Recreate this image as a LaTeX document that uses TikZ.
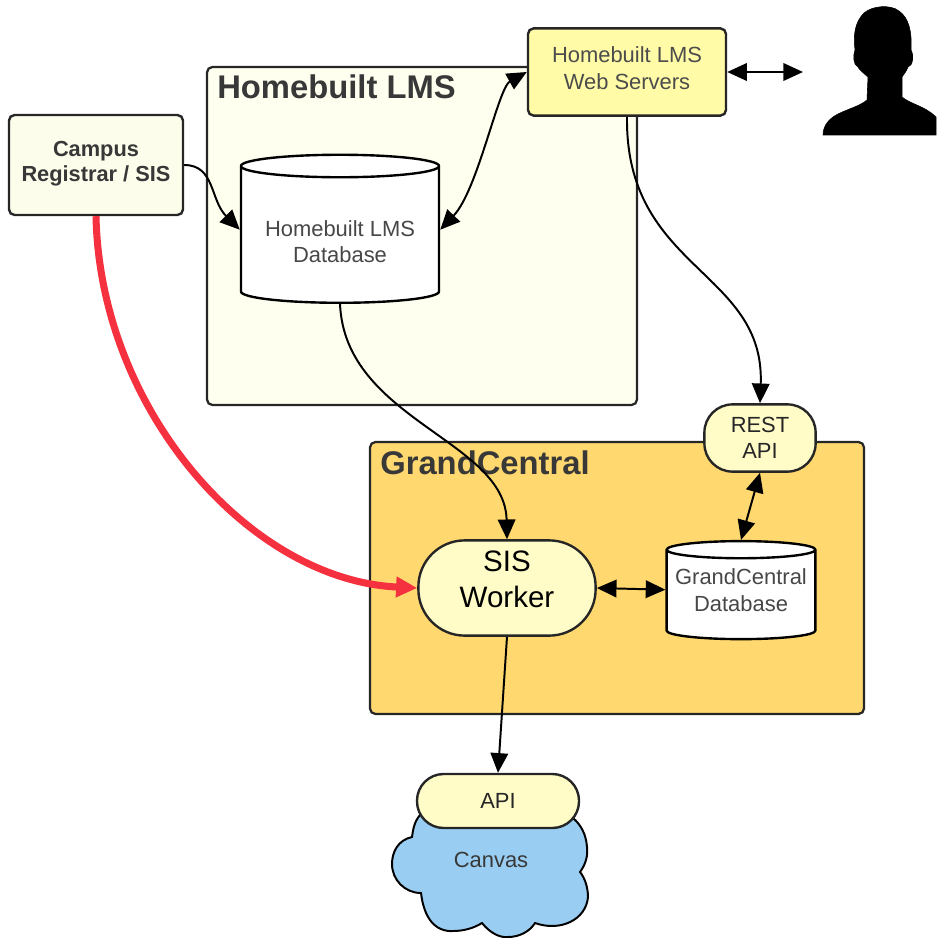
\documentclass[tikz,border=0pt]{standalone}
\usepackage{fontspec}
\setmainfont{Liberation Sans}
\usetikzlibrary{shapes.geometric,arrows.meta}

\definecolor{lmsfill}{HTML}{FFFFF0}
\definecolor{campusfill}{HTML}{FDFDEC}
\definecolor{webfill}{HTML}{FFFBA6}
\definecolor{apifill}{HTML}{FFFCC8}
\definecolor{gcfill}{HTML}{FFD96F}
\definecolor{cloudfill}{HTML}{99CEF2}
\definecolor{redline}{HTML}{F5303F}

\tikzset{
  panel/.style={draw=black!85,line width=1.6pt,rounded corners=4pt},
  paneltitle/.style={anchor=west,inner sep=0pt,text=black!78,font=\fontsize{23.3}{27}\selectfont\bfseries},
  box/.style={draw=black!85,line width=1.7pt,rounded corners=4pt,align=center,inner sep=0pt,
    font=\fontsize{15.6}{18.7}\selectfont},
  dbase/.style={draw=black,fill=white,line width=1.7pt,cylinder,shape border rotate=90,
    align=center,inner sep=0pt,text=black!72,font=\fontsize{15.6}{18.7}\selectfont},
  link/.style={draw=black,line width=1.4pt,-{Triangle[length=14pt,width=12.5pt]}},
  twolink/.style={draw=black,line width=1.4pt,{Triangle[length=14pt,width=12.5pt]}-{Triangle[length=14pt,width=12.5pt]}}
}

\begin{document}
\begin{tikzpicture}[x=0.025cm,y=-0.025cm]
  \useasboundingbox (0,0) rectangle (936,938);

  \node[panel,fill=lmsfill,minimum width=10.75cm,minimum height=8.45cm] (lmsbox) at (422,236) {};
  \node[paneltitle] (lmstitle) at (217,87) {Homebuilt LMS};
  \node[panel,fill=gcfill,minimum width=12.35cm,minimum height=6.8cm] (gcbox) at (617,578) {};
  \node[paneltitle] (gctitle) at (380,463) {GrandCentral};

  \filldraw[draw=black,fill=cloudfill,line width=1.4pt]
    (420,815) .. controls (414,822) and (413,830) .. (412,837)
    .. controls (398,840) and (392,852) .. (392,864)
    .. controls (392,880) and (405,893) .. (421,893)
    .. controls (424,918) and (435,932) .. (453,931)
    .. controls (464,931) and (474,928) .. (482,923)
    .. controls (490,933) and (500,938) .. (508,937)
    .. controls (520,937) and (530,931) .. (535,923)
    .. controls (560,932) and (586,920) .. (588,897)
    .. controls (588,888) and (585,878) .. (580,872)
    .. controls (586,864) and (588,855) .. (587,847)
    .. controls (586,834) and (581,825) .. (573,818) -- cycle;
  \node[inner sep=0pt,text=black!78,font=\fontsize{15.6}{18.7}\selectfont] (canvas) at (491,860) {Canvas};

  \filldraw[black]
    (823,135) .. controls (823,125) and (830,118) .. (838,114)
    .. controls (848,109) and (860,106) .. (867,100)
    -- (868,77) .. controls (862,72) and (858,68) .. (858,67)
    .. controls (853,65) and (853,55) .. (855,50)
    .. controls (853,35) and (855,22) .. (864,13)
    .. controls (872,6) and (890,4) .. (899,11)
    .. controls (909,18) and (912,32) .. (911,50)
    .. controls (914,55) and (913,66) .. (908,67)
    .. controls (906,72) and (904,74) .. (902,77)
    -- (902,97) .. controls (910,104) and (925,106) .. (936,117)
    -- (936,135) -- cycle;

  \node[box,fill=campusfill,text=black!78,font=\fontsize{15.5}{18.2}\selectfont\bfseries,
    minimum width=4.35cm,minimum height=2.5cm] (campus) at (96,165) {Campus\\Registrar / SIS\rule[-5pt]{0pt}{0pt}};
  \node[box,fill=webfill,text=black!70,minimum width=4.95cm,minimum height=2.18cm] (web) at (627,72) {Homebuilt LMS\\Web Servers\rule[-5.7pt]{0pt}{0pt}};
  \node[dbase,minimum width=4.95cm,minimum height=3.7cm,shape aspect=0.15] (lmsdb) at (340,235) {\rule{0pt}{21pt}Homebuilt LMS\\Database};
  \node[box,fill=apifill,text=black!85,rounded corners=20pt,minimum width=2.78cm,minimum height=1.68cm] (rest) at (760,438) {REST\\API};
  \node[box,fill=apifill,text=black,rounded corners=33pt,font=\fontsize{21}{25.6}\selectfont,
    minimum width=4.43cm,minimum height=2.38cm] (worker) at (507,588) {SIS\\Worker\rule[-12pt]{0pt}{0pt}};
  \node[dbase,minimum width=3.72cm,minimum height=2.45cm,shape aspect=0.13] (gcdb) at (741,595) {GrandCentral\\Database\rule[-7pt]{0pt}{0pt}};
  \node[box,fill=apifill,text=black!85,rounded corners=19pt,minimum width=4.05cm,minimum height=1.35cm] (api) at (498,801) {API};

  \draw[link] (campus.east) .. controls (215,165) and (210,200) .. (lmsdb.177);
  \draw[twolink] (web.west) .. controls (498,88) and (478,190) .. (lmsdb.3);
  \draw[twolink] (web.east) -- (803,72) coordinate (usr);
  \draw[link] (web.south) .. controls (625,270) and (765,270) .. (rest.north);
  \draw[twolink] (rest.south) -- (gcdb.north);
  \draw[link] (lmsdb.south) .. controls (345,420) and (505,440) .. (worker.north);
  \draw[twolink] (worker.east) -- (gcdb.176);
  \draw[link] (worker.south) -- (api.north);
  \draw[draw=redline,line width=5pt,-{Triangle[length=15pt,width=14pt]}] (campus.south) .. controls (100,410) and (250,580) .. (worker.west);
\end{tikzpicture}
\end{document}
